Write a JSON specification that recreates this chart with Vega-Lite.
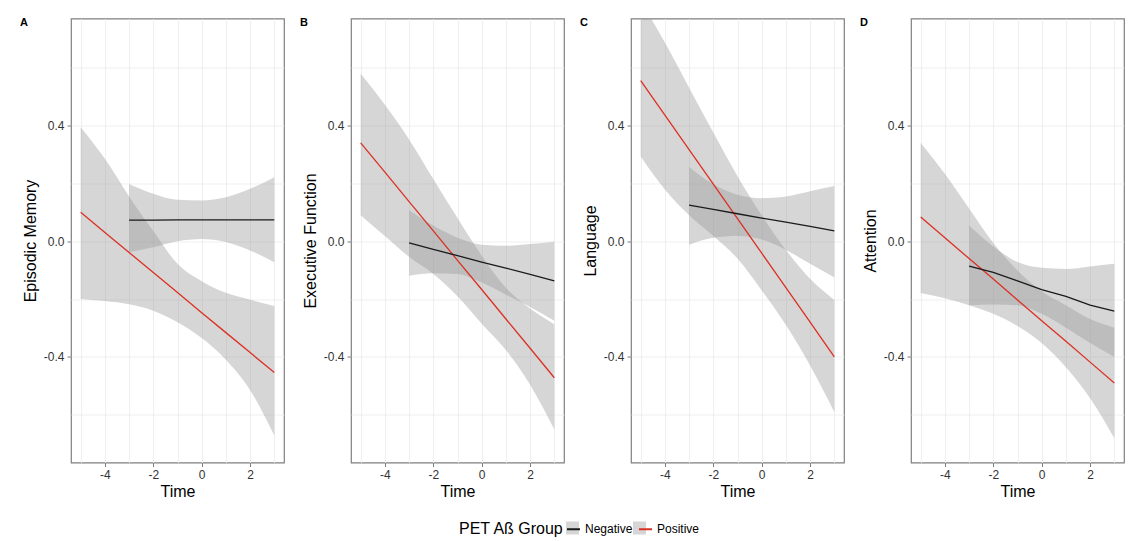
{
  "$schema": "https://vega.github.io/schema/vega-lite/v6.json",
  "background": "white",
  "padding": {"left": 19, "top": 15.5, "right": 5, "bottom": 5},
  "spacing": 14,
  "data": {"values": [
    {"panel": "A", "group": "Positive", "time": -5, "est": 0.100, "lo": -0.200, "hi": 0.394},
    {"panel": "A", "group": "Positive", "time": -4, "est": 0.030, "lo": -0.207, "hi": 0.285},
    {"panel": "A", "group": "Positive", "time": -3, "est": -0.039, "lo": -0.218, "hi": 0.155},
    {"panel": "A", "group": "Positive", "time": -2, "est": -0.108, "lo": -0.240, "hi": 0.035},
    {"panel": "A", "group": "Positive", "time": -1, "est": -0.177, "lo": -0.280, "hi": -0.078},
    {"panel": "A", "group": "Positive", "time": 0, "est": -0.247, "lo": -0.335, "hi": -0.138},
    {"panel": "A", "group": "Positive", "time": 1, "est": -0.316, "lo": -0.410, "hi": -0.178},
    {"panel": "A", "group": "Positive", "time": 2, "est": -0.385, "lo": -0.515, "hi": -0.202},
    {"panel": "A", "group": "Positive", "time": 3, "est": -0.454, "lo": -0.672, "hi": -0.224},
    {"panel": "A", "group": "Negative", "time": -3, "est": 0.073, "lo": -0.038, "hi": 0.198},
    {"panel": "A", "group": "Negative", "time": -2, "est": 0.073, "lo": -0.021, "hi": 0.164},
    {"panel": "A", "group": "Negative", "time": -1, "est": 0.074, "lo": 0.000, "hi": 0.143},
    {"panel": "A", "group": "Negative", "time": 0, "est": 0.074, "lo": 0.008, "hi": 0.141},
    {"panel": "A", "group": "Negative", "time": 1, "est": 0.074, "lo": -0.003, "hi": 0.152},
    {"panel": "A", "group": "Negative", "time": 2, "est": 0.074, "lo": -0.032, "hi": 0.181},
    {"panel": "A", "group": "Negative", "time": 3, "est": 0.074, "lo": -0.073, "hi": 0.221},

    {"panel": "B", "group": "Positive", "time": -5, "est": 0.340, "lo": 0.090, "hi": 0.579},
    {"panel": "B", "group": "Positive", "time": -4, "est": 0.239, "lo": 0.018, "hi": 0.472},
    {"panel": "B", "group": "Positive", "time": -3, "est": 0.137, "lo": -0.054, "hi": 0.352},
    {"panel": "B", "group": "Positive", "time": -2, "est": 0.036, "lo": -0.113, "hi": 0.215},
    {"panel": "B", "group": "Positive", "time": -1, "est": -0.066, "lo": -0.190, "hi": 0.080},
    {"panel": "B", "group": "Positive", "time": 0, "est": -0.167, "lo": -0.285, "hi": -0.050},
    {"panel": "B", "group": "Positive", "time": 1, "est": -0.269, "lo": -0.376, "hi": -0.161},
    {"panel": "B", "group": "Positive", "time": 2, "est": -0.370, "lo": -0.496, "hi": -0.233},
    {"panel": "B", "group": "Positive", "time": 3, "est": -0.472, "lo": -0.651, "hi": -0.287},
    {"panel": "B", "group": "Negative", "time": -3, "est": -0.006, "lo": -0.119, "hi": 0.107},
    {"panel": "B", "group": "Negative", "time": -2, "est": -0.028, "lo": -0.111, "hi": 0.054},
    {"panel": "B", "group": "Negative", "time": -1, "est": -0.050, "lo": -0.113, "hi": 0.012},
    {"panel": "B", "group": "Negative", "time": 0, "est": -0.072, "lo": -0.143, "hi": -0.012},
    {"panel": "B", "group": "Negative", "time": 1, "est": -0.093, "lo": -0.185, "hi": -0.016},
    {"panel": "B", "group": "Negative", "time": 2, "est": -0.115, "lo": -0.227, "hi": -0.010},
    {"panel": "B", "group": "Negative", "time": 3, "est": -0.137, "lo": -0.275, "hi": -0.002},

    {"panel": "C", "group": "Positive", "time": -5, "est": 0.555, "lo": 0.293, "hi": 0.830},
    {"panel": "C", "group": "Positive", "time": -4, "est": 0.436, "lo": 0.179, "hi": 0.687},
    {"panel": "C", "group": "Positive", "time": -3, "est": 0.317, "lo": 0.090, "hi": 0.531},
    {"panel": "C", "group": "Positive", "time": -2, "est": 0.197, "lo": 0.018, "hi": 0.376},
    {"panel": "C", "group": "Positive", "time": -1, "est": 0.078, "lo": -0.060, "hi": 0.225},
    {"panel": "C", "group": "Positive", "time": 0, "est": -0.041, "lo": -0.170, "hi": 0.090},
    {"panel": "C", "group": "Positive", "time": 1, "est": -0.160, "lo": -0.290, "hi": -0.030},
    {"panel": "C", "group": "Positive", "time": 2, "est": -0.280, "lo": -0.430, "hi": -0.130},
    {"panel": "C", "group": "Positive", "time": 3, "est": -0.400, "lo": -0.591, "hi": -0.203},
    {"panel": "C", "group": "Negative", "time": -3, "est": 0.125, "lo": -0.012, "hi": 0.257},
    {"panel": "C", "group": "Negative", "time": -2, "est": 0.110, "lo": 0.012, "hi": 0.197},
    {"panel": "C", "group": "Negative", "time": -1, "est": 0.095, "lo": 0.018, "hi": 0.161},
    {"panel": "C", "group": "Negative", "time": 0, "est": 0.080, "lo": 0.006, "hi": 0.149},
    {"panel": "C", "group": "Negative", "time": 1, "est": 0.066, "lo": -0.030, "hi": 0.155},
    {"panel": "C", "group": "Negative", "time": 2, "est": 0.051, "lo": -0.078, "hi": 0.173},
    {"panel": "C", "group": "Negative", "time": 3, "est": 0.036, "lo": -0.125, "hi": 0.191},

    {"panel": "D", "group": "Positive", "time": -5, "est": 0.084, "lo": -0.179, "hi": 0.340},
    {"panel": "D", "group": "Positive", "time": -4, "est": 0.012, "lo": -0.197, "hi": 0.233},
    {"panel": "D", "group": "Positive", "time": -3, "est": -0.060, "lo": -0.221, "hi": 0.113},
    {"panel": "D", "group": "Positive", "time": -2, "est": -0.131, "lo": -0.251, "hi": -0.006},
    {"panel": "D", "group": "Positive", "time": -1, "est": -0.203, "lo": -0.293, "hi": -0.101},
    {"panel": "D", "group": "Positive", "time": 0, "est": -0.275, "lo": -0.352, "hi": -0.173},
    {"panel": "D", "group": "Positive", "time": 1, "est": -0.346, "lo": -0.436, "hi": -0.221},
    {"panel": "D", "group": "Positive", "time": 2, "est": -0.418, "lo": -0.543, "hi": -0.269},
    {"panel": "D", "group": "Positive", "time": 3, "est": -0.490, "lo": -0.681, "hi": -0.299},
    {"panel": "D", "group": "Negative", "time": -3, "est": -0.086, "lo": -0.221, "hi": 0.054},
    {"panel": "D", "group": "Negative", "time": -2, "est": -0.108, "lo": -0.219, "hi": -0.018},
    {"panel": "D", "group": "Negative", "time": -1, "est": -0.137, "lo": -0.221, "hi": -0.072},
    {"panel": "D", "group": "Negative", "time": 0, "est": -0.167, "lo": -0.251, "hi": -0.092},
    {"panel": "D", "group": "Negative", "time": 1, "est": -0.191, "lo": -0.299, "hi": -0.096},
    {"panel": "D", "group": "Negative", "time": 2, "est": -0.221, "lo": -0.352, "hi": -0.087},
    {"panel": "D", "group": "Negative", "time": 3, "est": -0.242, "lo": -0.400, "hi": -0.078}
  ]},
  "hconcat": [
    {
      "width": 213, "height": 444,
      "title": {"text": "A"},
      "transform": [{"filter": "datum.panel === 'A'"}],
      "encoding": {"x": {"field": "time", "type": "quantitative", "title": "Time", "scale": {"domain": [-5.4, 3.4], "nice": false, "zero": false},
        "axis": {"values": [-5, -4, -3, -2, -1, 0, 1, 2, 3], "labelExpr": "datum.value % 2 === 0 ? replace(datum.label, '\u2212', '-') : ''", "tickOpacity": {"condition": {"test": "datum.value % 2 === 0", "value": 1}, "value": 0}}}},
      "layer": [
        {"mark": {"type": "area", "interpolate": "monotone", "opacity": 0.4, "clip": true},
         "encoding": {
           "y": {"field": "lo", "type": "quantitative", "title": "Episodic Memory", "scale": {"domain": [-0.765, 0.77], "nice": false, "zero": false},
             "axis": {"values": [-0.6, -0.4, -0.2, 0, 0.2, 0.4, 0.6], "labelExpr": "(abs(datum.value) < 0.001 || abs(abs(datum.value) - 0.4) < 0.001) ? replace(format(datum.value, '.1f'), '\u2212', '-') : ''", "tickOpacity": {"condition": {"test": "abs(datum.value) < 0.001 || abs(abs(datum.value) - 0.4) < 0.001", "value": 1}, "value": 0}}},
           "y2": {"field": "hi"},
           "fill": {"field": "group", "type": "nominal", "scale": {"domain": ["Negative", "Positive"], "range": ["#999999", "#999999"]},
             "legend": {"orient": "none", "legendX": 388, "legendY": 503, "direction": "horizontal", "title": "PET Aß Group", "titleOrient": "left", "symbolType": "square", "symbolOpacity": 0.4, "symbolSize": 169, "symbolStrokeWidth": 0, "labelOpacity": 0, "titleOpacity": 0, "zindex": 1}}
         }},
        {"mark": {"type": "line", "strokeWidth": 1.3},
         "encoding": {
           "y": {"field": "est", "type": "quantitative", "title": "Episodic Memory"},
           "color": {"field": "group", "type": "nominal", "scale": {"range": ["#1a1a1a", "#dc3023"]},
             "legend": {"orient": "none", "legendX": 388, "legendY": 503, "direction": "horizontal", "title": "PET Aß Group", "titleOrient": "left", "symbolType": "stroke", "symbolSize": 169, "symbolStrokeWidth": 2, "zindex": 2}}
         }}
      ]
    },
    {
      "width": 213, "height": 444,
      "title": {"text": "B"},
      "transform": [{"filter": "datum.panel === 'B'"}],
      "encoding": {"x": {"field": "time", "type": "quantitative", "title": "Time", "scale": {"domain": [-5.4, 3.4], "nice": false, "zero": false},
        "axis": {"values": [-5, -4, -3, -2, -1, 0, 1, 2, 3], "labelExpr": "datum.value % 2 === 0 ? replace(datum.label, '\u2212', '-') : ''", "tickOpacity": {"condition": {"test": "datum.value % 2 === 0", "value": 1}, "value": 0}}}},
      "layer": [
        {"mark": {"type": "area", "interpolate": "monotone", "opacity": 0.4, "clip": true},
         "encoding": {
           "y": {"field": "lo", "type": "quantitative", "title": "Executive Function", "scale": {"domain": [-0.765, 0.77], "nice": false, "zero": false},
             "axis": {"values": [-0.6, -0.4, -0.2, 0, 0.2, 0.4, 0.6], "labelExpr": "(abs(datum.value) < 0.001 || abs(abs(datum.value) - 0.4) < 0.001) ? replace(format(datum.value, '.1f'), '\u2212', '-') : ''", "tickOpacity": {"condition": {"test": "abs(datum.value) < 0.001 || abs(abs(datum.value) - 0.4) < 0.001", "value": 1}, "value": 0}}},
           "y2": {"field": "hi"},
           "fill": {"field": "group", "type": "nominal", "scale": {"domain": ["Negative", "Positive"], "range": ["#999999", "#999999"]},
             "legend": {"orient": "none", "legendX": 388, "legendY": 503, "direction": "horizontal", "title": "PET Aß Group", "titleOrient": "left", "symbolType": "square", "symbolOpacity": 0.4, "symbolSize": 169, "symbolStrokeWidth": 0, "labelOpacity": 0, "titleOpacity": 0, "zindex": 1}}
         }},
        {"mark": {"type": "line", "strokeWidth": 1.3},
         "encoding": {
           "y": {"field": "est", "type": "quantitative", "title": "Executive Function"},
           "color": {"field": "group", "type": "nominal", "scale": {"range": ["#1a1a1a", "#dc3023"]},
             "legend": {"orient": "none", "legendX": 388, "legendY": 503, "direction": "horizontal", "title": "PET Aß Group", "titleOrient": "left", "symbolType": "stroke", "symbolSize": 169, "symbolStrokeWidth": 2, "zindex": 2}}
         }}
      ]
    },
    {
      "width": 213, "height": 444,
      "title": {"text": "C"},
      "transform": [{"filter": "datum.panel === 'C'"}],
      "encoding": {"x": {"field": "time", "type": "quantitative", "title": "Time", "scale": {"domain": [-5.4, 3.4], "nice": false, "zero": false},
        "axis": {"values": [-5, -4, -3, -2, -1, 0, 1, 2, 3], "labelExpr": "datum.value % 2 === 0 ? replace(datum.label, '\u2212', '-') : ''", "tickOpacity": {"condition": {"test": "datum.value % 2 === 0", "value": 1}, "value": 0}}}},
      "layer": [
        {"mark": {"type": "area", "interpolate": "monotone", "opacity": 0.4, "clip": true},
         "encoding": {
           "y": {"field": "lo", "type": "quantitative", "title": "Language", "scale": {"domain": [-0.765, 0.77], "nice": false, "zero": false},
             "axis": {"values": [-0.6, -0.4, -0.2, 0, 0.2, 0.4, 0.6], "labelExpr": "(abs(datum.value) < 0.001 || abs(abs(datum.value) - 0.4) < 0.001) ? replace(format(datum.value, '.1f'), '\u2212', '-') : ''", "tickOpacity": {"condition": {"test": "abs(datum.value) < 0.001 || abs(abs(datum.value) - 0.4) < 0.001", "value": 1}, "value": 0}}},
           "y2": {"field": "hi"},
           "fill": {"field": "group", "type": "nominal", "scale": {"domain": ["Negative", "Positive"], "range": ["#999999", "#999999"]},
             "legend": {"orient": "none", "legendX": 388, "legendY": 503, "direction": "horizontal", "title": "PET Aß Group", "titleOrient": "left", "symbolType": "square", "symbolOpacity": 0.4, "symbolSize": 169, "symbolStrokeWidth": 0, "labelOpacity": 0, "titleOpacity": 0, "zindex": 1}}
         }},
        {"mark": {"type": "line", "strokeWidth": 1.3},
         "encoding": {
           "y": {"field": "est", "type": "quantitative", "title": "Language"},
           "color": {"field": "group", "type": "nominal", "scale": {"range": ["#1a1a1a", "#dc3023"]},
             "legend": {"orient": "none", "legendX": 388, "legendY": 503, "direction": "horizontal", "title": "PET Aß Group", "titleOrient": "left", "symbolType": "stroke", "symbolSize": 169, "symbolStrokeWidth": 2, "zindex": 2}}
         }}
      ]
    },
    {
      "width": 213, "height": 444,
      "title": {"text": "D"},
      "transform": [{"filter": "datum.panel === 'D'"}],
      "encoding": {"x": {"field": "time", "type": "quantitative", "title": "Time", "scale": {"domain": [-5.4, 3.4], "nice": false, "zero": false},
        "axis": {"values": [-5, -4, -3, -2, -1, 0, 1, 2, 3], "labelExpr": "datum.value % 2 === 0 ? replace(datum.label, '\u2212', '-') : ''", "tickOpacity": {"condition": {"test": "datum.value % 2 === 0", "value": 1}, "value": 0}}}},
      "layer": [
        {"mark": {"type": "area", "interpolate": "monotone", "opacity": 0.4, "clip": true},
         "encoding": {
           "y": {"field": "lo", "type": "quantitative", "title": "Attention", "scale": {"domain": [-0.765, 0.77], "nice": false, "zero": false},
             "axis": {"values": [-0.6, -0.4, -0.2, 0, 0.2, 0.4, 0.6], "labelExpr": "(abs(datum.value) < 0.001 || abs(abs(datum.value) - 0.4) < 0.001) ? replace(format(datum.value, '.1f'), '\u2212', '-') : ''", "tickOpacity": {"condition": {"test": "abs(datum.value) < 0.001 || abs(abs(datum.value) - 0.4) < 0.001", "value": 1}, "value": 0}}},
           "y2": {"field": "hi"},
           "fill": {"field": "group", "type": "nominal", "scale": {"domain": ["Negative", "Positive"], "range": ["#999999", "#999999"]},
             "legend": {"orient": "none", "legendX": 388, "legendY": 503, "direction": "horizontal", "title": "PET Aß Group", "titleOrient": "left", "symbolType": "square", "symbolOpacity": 0.4, "symbolSize": 169, "symbolStrokeWidth": 0, "labelOpacity": 0, "titleOpacity": 0, "zindex": 1}}
         }},
        {"mark": {"type": "line", "strokeWidth": 1.3},
         "encoding": {
           "y": {"field": "est", "type": "quantitative", "title": "Attention"},
           "color": {"field": "group", "type": "nominal", "scale": {"range": ["#1a1a1a", "#dc3023"]},
             "legend": {"orient": "none", "legendX": 388, "legendY": 503, "direction": "horizontal", "title": "PET Aß Group", "titleOrient": "left", "symbolType": "stroke", "symbolSize": 169, "symbolStrokeWidth": 2, "zindex": 2}}
         }}
      ]
    }
  ],
  "config": {
    "font": "Liberation Sans",
    "view": {"stroke": "#7f7f7f", "strokeWidth": 1.2},
    "axis": {"domain": false, "grid": true, "gridColor": "#ebebeb", "gridWidth": 0.8, "tickColor": "#7f7f7f", "tickSize": 4, "tickWidth": 1,
      "labelFontSize": 12, "labelColor": "#333333", "labelPadding": 3, "labelFont": "Liberation Sans",
      "titleFontSize": 16, "titleFontWeight": "normal", "titleColor": "#000000", "titleFont": "Liberation Sans", "titlePadding": 4},
    "axisX": {"titlePadding": 3},
    "axisY": {"titlePadding": 5},
    "legend": {"titleFontSize": 16, "titleFontWeight": "normal", "titleColor": "#000000", "titleFont": "Liberation Sans", "titlePadding": 2,
      "labelFontSize": 12, "labelFontWeight": "normal", "labelColor": "#000000", "labelFont": "Liberation Sans", "labelOffset": 4, "columnPadding": 2, "padding": 0},
    "title": {"anchor": "start", "frame": "group", "fontSize": 11, "fontWeight": "bold", "color": "#000000", "font": "Liberation Sans", "baseline": "top", "offset": -9.5, "dx": -51}
  }
}
